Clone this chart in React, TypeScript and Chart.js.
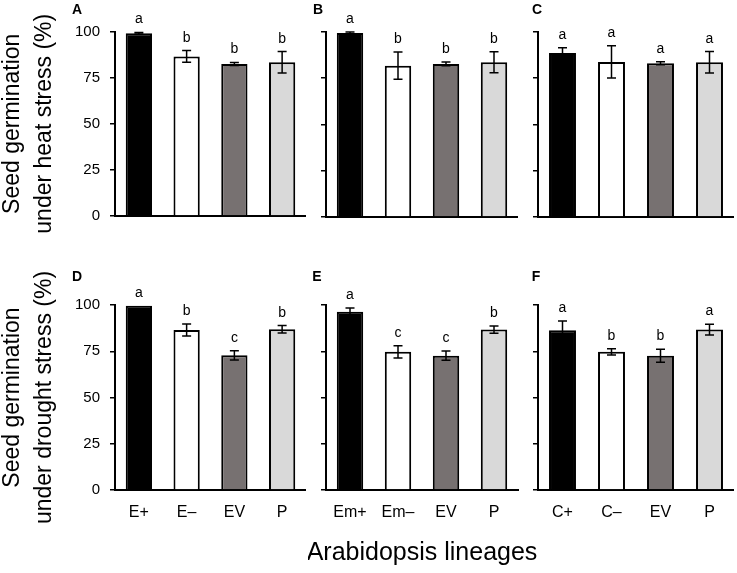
import { useEffect, useRef } from "react";
import { Chart, registerables } from "chart.js";

Chart.register(...registerables);

const FONT = "Arial, 'Liberation Sans', sans-serif";

// categories per lineage set
const lineagesE = ["E+", "E–", "EV", "P"];
const lineagesEm = ["Em+", "Em–", "EV", "P"];
const lineagesC = ["C+", "C–", "EV", "P"];

// heat stress (top row)
const heatE = [99, 86.5, 82.4, 83.3];
const heatEErr = [0.5, 3.2, 0.8, 5.8];
const heatELetters = ["a", "b", "b", "b"];
const heatEm = [99.2, 81.6, 82.5, 83.4];
const heatEmErr = [0.5, 7.4, 1, 5.7];
const heatEmLetters = ["a", "b", "b", "b"];
const heatC = [88.4, 83.6, 82.9, 83.4];
const heatCErr = [2.9, 8.7, 0.8, 5.8];
const heatCLetters = ["a", "a", "a", "a"];

// drought stress (bottom row)
const droughtE = [99.6, 86.5, 72.8, 86.9];
const droughtEErr = [0, 3.2, 2.5, 2];
const droughtELetters = ["a", "b", "c", "b"];
const droughtEm = [96.4, 74.7, 72.6, 86.7];
const droughtEmErr = [2, 3.3, 2.5, 2];
const droughtEmLetters = ["a", "c", "c", "b"];
const droughtC = [86.4, 74.7, 72.6, 86.7];
const droughtCErr = [5, 1.7, 3.5, 2.9];
const droughtCLetters = ["a", "b", "b", "a"];

const yTicks = [0, 25, 50, 75, 100];
const barColors = ["#000000", "#ffffff", "#777171", "#d9d9d9"];

type PanelProps = {
  panel: string;
  labels: string[];
  values: number[];
  errors: number[];
  letters: string[];
  left: number;
  top: number;
  width: number;
  height: number;
  yWidth: number;
  padTop: number;
  padRight?: number;
  xHeight: number;
  showYLabels: boolean;
  showXLabels: boolean;
  yTitle?: string[];
  xTitle?: string;
  letterDx: number;
  letterY: number;
};

const Panel = (p: PanelProps) => {
  const ref = useRef<HTMLCanvasElement | null>(null);

  useEffect(() => {
    if (!ref.current) return;

    // error bars, significance letters, panel letter and shared x title
    const marks = {
      id: "marks",
      afterDatasetsDraw(chart: Chart) {
        const { ctx, chartArea } = chart;
        const y = chart.scales.y;
        const bars = chart.getDatasetMeta(0).data;
        ctx.save();
        ctx.strokeStyle = "#000";
        ctx.fillStyle = "#000";
        ctx.lineWidth = 1.5;
        ctx.font = `14px ${FONT}`;
        ctx.textAlign = "center";
        ctx.textBaseline = "alphabetic";
        bars.forEach((bar, i) => {
          const v = p.values[i];
          const e = p.errors[i];
          const x = bar.x;
          const hi = y.getPixelForValue(v + e);
          const lo = y.getPixelForValue(v - e);
          if (e > 0) {
            ctx.beginPath();
            ctx.moveTo(x, hi);
            ctx.lineTo(x, lo);
            ctx.moveTo(x - 4.5, hi);
            ctx.lineTo(x + 4.5, hi);
            ctx.moveTo(x - 4.5, lo);
            ctx.lineTo(x + 4.5, lo);
            ctx.stroke();
          }
          ctx.fillText(p.letters[i], x, hi - 9);
        });
        if (p.xTitle) {
          ctx.font = `25px ${FONT}`;
          ctx.fillText(p.xTitle, (chartArea.left + chartArea.right) / 2, chartArea.bottom + 70);
        }
        ctx.font = `bold 14px ${FONT}`;
        ctx.textBaseline = "middle";
        ctx.fillText(p.panel, chartArea.left + p.letterDx, p.letterY);
        ctx.restore();
      },
    };

    const chart = new Chart(ref.current, {
      type: "bar",
      data: {
        labels: p.labels,
        datasets: [
          {
            data: p.values,
            backgroundColor: barColors,
            borderColor: "#000",
            borderWidth: 2,
            barPercentage: 0.55,
            categoryPercentage: 1,
          },
        ],
      },
      options: {
        responsive: false,
        animation: false,
        layout: {
          autoPadding: false,
          padding: { top: p.padTop, left: 0, right: p.padRight ?? 0, bottom: 0 },
        },
        plugins: { legend: { display: false }, tooltip: { enabled: false } },
        scales: {
          x: {
            grid: { display: false },
            border: { display: true, color: "#000", width: 2 },
            ticks: {
              display: p.showXLabels,
              color: "#000",
              padding: 5,
              font: { family: FONT, size: 16 },
            },
            afterFit: (s) => {
              s.height = p.xHeight;
            },
          },
          y: {
            min: 0,
            max: 100,
            grid: {
              display: true,
              drawOnChartArea: false,
              drawTicks: true,
              tickLength: 5,
              color: "#000",
              lineWidth: 1.5,
            },
            border: { display: true, color: "#000", width: 2 },
            afterBuildTicks: (s) => {
              s.ticks = yTicks.map((v) => ({ value: v }));
            },
            ticks: {
              display: p.showYLabels,
              color: "#000",
              padding: 10,
              font: { family: FONT, size: 15 },
            },
            title: {
              display: !!p.yTitle,
              text: p.yTitle ?? "",
              color: "#000",
              font: { family: FONT, size: 23, lineHeight: 32 / 23 },
              padding: 0,
            },
            afterFit: (s) => {
              s.width = p.yWidth;
            },
          },
        },
      },
      plugins: [marks],
    });

    return () => {
      chart.destroy();
    };
  }, []);

  return (
    <canvas
      ref={ref}
      width={p.width}
      height={p.height}
      style={{ position: "absolute", left: p.left, top: p.top, width: p.width, height: p.height }}
    />
  );
};

const cols = [
  { left: -3, width: 309, yWidth: 118, showYLabels: true },
  { left: 308, width: 210, yWidth: 18, showYLabels: false },
  { left: 518, width: 216, yWidth: 20, showYLabels: false },
];
const rows = [
  { top: 0, height: 235, padTop: 31.5, xHeight: 18, showXLabels: false, letterY: 10.5 },
  { top: 250, height: 323, padTop: 55, xHeight: 83, showXLabels: true, letterY: 27 },
];

const App = () => {
  const panels = [
    { r: 0, c: 0, panel: "A", labels: lineagesE, values: heatE, errors: heatEErr, letters: heatELetters, letterDx: -38, yTitle: ["Seed germination", "under heat stress (%)"] },
    { r: 0, c: 1, panel: "B", labels: lineagesEm, values: heatEm, errors: heatEmErr, letters: heatEmLetters, letterDx: -8 },
    { r: 0, c: 2, panel: "C", labels: lineagesC, values: heatC, errors: heatCErr, letters: heatCLetters, letterDx: -1 },
    { r: 1, c: 0, panel: "D", labels: lineagesE, values: droughtE, errors: droughtEErr, letters: droughtELetters, letterDx: -38, yTitle: ["Seed germination", "under drought stress (%)"] },
    { r: 1, c: 1, panel: "E", labels: lineagesEm, values: droughtEm, errors: droughtEmErr, letters: droughtEmLetters, letterDx: -9, xTitle: "Arabidopsis lineages" },
    { r: 1, c: 2, panel: "F", labels: lineagesC, values: droughtC, errors: droughtCErr, letters: droughtCLetters, letterDx: -2 },
  ];

  return (
    <div style={{ position: "fixed", left: 0, top: 0, width: 737, height: 573, background: "#fff", overflow: "hidden" }}>
      {panels.map((d) => {
        const col = cols[d.c];
        // the shared x title is wider than its panel, so that canvas gets extra room on the right
        const wide = d.xTitle ? 40 : 0;
        return (
          <Panel
            key={d.panel}
            {...d}
            {...col}
            {...rows[d.r]}
            width={col.width + wide}
            padRight={wide}
          />
        );
      })}
    </div>
  );
};

export default App;
